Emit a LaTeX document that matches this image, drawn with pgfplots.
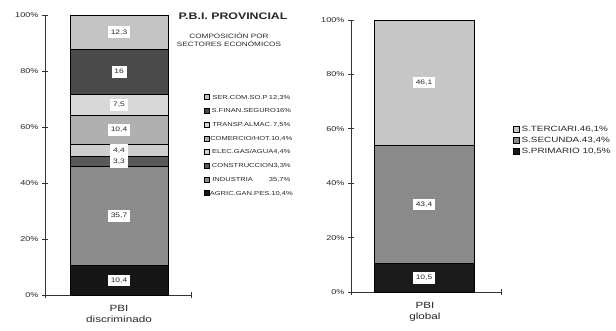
\documentclass[border=0pt]{standalone}
\usepackage{pgfplots}
\pgfplotsset{compat=1.18}
\usepackage{fontspec}
\setmainfont[FakeStretch=1.3]{Liberation Sans}
\definecolor{cAgric}{HTML}{161616}
\definecolor{cInd}{HTML}{8C8C8C}
\definecolor{cCons}{HTML}{5A5A5A}
\definecolor{cElec}{HTML}{CFCFCF}
\definecolor{cCom}{HTML}{B0B0B0}
\definecolor{cTra}{HTML}{D8D8D8}
\definecolor{cFin}{HTML}{4A4A4A}
\definecolor{cSer}{HTML}{C4C4C4}
\definecolor{cPri}{HTML}{1A1A1A}
\definecolor{cSec}{HTML}{8A8A8A}
\definecolor{cTer}{HTML}{C6C6C6}
\definecolor{txt}{HTML}{262626}
\pgfplotsset{
  base/.style={
    scale only axis,
    anchor=south west,
    ymin=0, ymax=100,
    axis x line=bottom, axis y line=left,
    axis line style={-, line width=0.8pt, color=black!80},
    ytick={0,20,...,100},
    yticklabel={\pgfmathprintnumber{\tick}\%},
    /pgf/number format/assume math mode=true,
    tick align=center, major tick length=6pt,
    tick style={line width=0.8pt, black!80},
    ticklabel style={font=\fontsize{7}{8}\selectfont, text=txt},
    ybar stacked,
    clip=false,
    legend image code/.code={\draw[#1,line width=0.4pt,draw=black] (0pt,-2.5pt) rectangle (5pt,2.5pt);},
    legend reversed,
    xlabel style={font=\fontsize{9}{11}\selectfont, align=center, anchor=north, text=txt},
  },
  seg/.style={fill=#1, draw=black, line width=0.8pt},
  labs/.style={
    scale only axis, anchor=south west, hide axis, clip=false,
    ymin=0, ymax=100,
  },
  lab/.style={draw=none, mark=none, nodes near coords, point meta=explicit symbolic,
    every node near coord/.append style={anchor=center, fill=white, inner sep=2.8pt,
      text height=5pt, text depth=1pt, font=\fontsize{6.5}{7}\selectfont, text=txt}},
}
\begin{document}
\begin{tikzpicture}
\useasboundingbox (0,0) rectangle (616pt,331pt);
% ---------- left chart ----------
\begin{axis}[base,
  at={(45pt,36pt)}, width=146pt, height=280pt,
  xmin=0, xmax=146, bar width=98pt,
  xtick={0,146}, xticklabels={,},
  xlabel={PBI\\discriminado},
  xlabel style={at={(axis description cs:0.507,0)}, yshift=-7pt},
  legend style={at={(axis description cs:1.07,0.725)}, anchor=north west,
    draw=none, fill=none, font=\fontsize{5.8}{7}\selectfont, text=txt,
    row sep=7.7pt, nodes={inner xsep=0pt, inner ysep=0pt, text height=5pt, text depth=1pt},
    /tikz/every odd column/.append style={column sep=2.5pt},
    legend cell align=left},
]
\addplot[seg=cAgric] coordinates {(74,10.4)};
\addplot[seg=cInd]   coordinates {(74,35.7)};
\addplot[seg=cCons]  coordinates {(74,3.3)};
\addplot[seg=cElec]  coordinates {(74,4.4)};
\addplot[seg=cCom]   coordinates {(74,10.4)};
\addplot[seg=cTra]   coordinates {(74,7.5)};
\addplot[seg=cFin]   coordinates {(74,16)};
\addplot[seg=cSer]   coordinates {(74,12.3)};
\legend{
  \makebox[78pt]{AGRIC.GAN.PES.\hfill10,4\%},
  \makebox[78pt]{INDUSTRIA\hfill35,7\%},
  \makebox[78pt]{CONSTRUCCION\hfill3,3\%},
  \makebox[78pt]{ELEC.GAS/AGUA\hfill4,4\%},
  \makebox[78pt]{COMERCIO/HOT.\hfill10,4\%},
  \makebox[78pt]{TRANSP.ALMAC.\hfill7,5\%},
  \makebox[78pt]{S.FINAN.SEGURO\hfill16\%},
  \makebox[78pt]{SER.COM.SO.P\hfill12,3\%}}
\end{axis}
\begin{axis}[labs, at={(45pt,36pt)}, width=146pt, height=280pt, xmin=0, xmax=146]
\addplot[lab] table[x=x, y=y, meta=t] {
x y t
74 5.2 10,4
74 28.25 35,7
74 47.6 3,3
74 51.7 4,4
74 59.0 10,4
74 67.95 7,5
74 79.7 16
74 93.85 12,3
};
\end{axis}
% ---------- right chart ----------
\begin{axis}[base,
  at={(351pt,39pt)}, width=150pt, height=272pt,
  xmin=0, xmax=150, bar width=100pt,
  xtick={0,150}, xticklabels={,},
  xlabel={PBI\\global},
  xlabel style={at={(axis description cs:0.493,0)}, yshift=-7pt},
  legend style={at={(axis description cs:1.06,0.62)}, anchor=north west,
    draw=none, fill=none, font=\fontsize{7.6}{9}\selectfont, text=txt,
    row sep=3.5pt, nodes={inner xsep=0pt, inner ysep=0pt, text height=6pt, text depth=1.5pt},
    /tikz/every odd column/.append style={column sep=2pt},
    legend cell align=left},
  legend image code/.code={\draw[#1,line width=0.4pt,draw=black] (0pt,-3pt) rectangle (6pt,3pt);},
]
\addplot[seg=cPri] coordinates {(73,10.5)};
\addplot[seg=cSec] coordinates {(73,43.4)};
\addplot[seg=cTer] coordinates {(73,46.1)};
\legend{{S.PRIMARIO 10,5\%}, {S.SECUNDA.43,4\%}, {S.TERCIARI.46,1\%}}
\end{axis}
\begin{axis}[labs, at={(351pt,39pt)}, width=150pt, height=272pt, xmin=0, xmax=150]
\addplot[lab] table[x=x, y=y, meta=t] {
x y t
73 5.25 10,5
73 32.2 43,4
73 76.95 46,1
};
\end{axis}
% ---------- titles ----------
\node[font=\bfseries\fontsize{9.5}{11}\selectfont, text=txt] at (233pt,315pt) {P.B.I. PROVINCIAL};
\node[font=\fontsize{6.3}{7}\selectfont, text=txt, align=center] at (229pt,291pt) {COMPOSICIÓN POR\\[1pt]SECTORES ECONÓMICOS};
\end{tikzpicture}
\end{document}
